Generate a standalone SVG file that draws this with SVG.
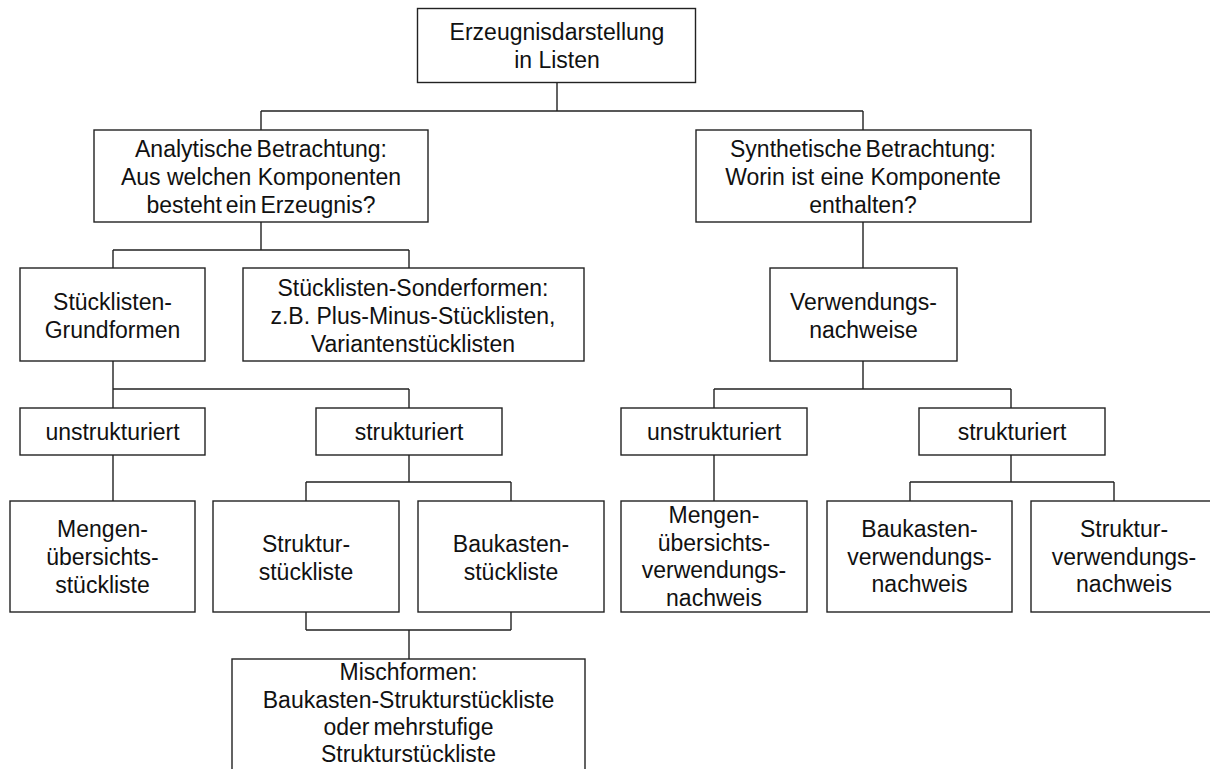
<svg xmlns="http://www.w3.org/2000/svg" width="1210" height="769" viewBox="0 0 1210 769">
<style>
rect{fill:#fff;stroke:#222;stroke-width:1.4}
text{font-family:"Liberation Sans",Arial,sans-serif;font-size:23px;fill:#111;text-anchor:middle}
.t{word-spacing:-2.5px}
#connectors path{fill:none;stroke:#222;stroke-width:1.4}
</style>
<rect width="1210" height="769" style="fill:#fff;stroke:none"/>
<g id="connectors">
<path d="M557,82V111M261,111H863M261,111V130M863,111V130"/>
<path d="M261,222V250M113,250H409M113,250V268M409,250V268"/>
<path d="M113,361V389M113,389H409M113,389V408M409,389V408"/>
<path d="M113,455V501"/>
<path d="M409,455V482M306,482H511M306,482V501M511,482V501"/>
<path d="M306,612V630M511,612V630M306,630H511M409,630V659"/>
<path d="M863,222V268M863,361V389M714,389H1011M714,389V408M1011,389V408"/>
<path d="M714,455V501"/>
<path d="M1011,455V482M910,482H1114M910,482V501M1114,482V501"/>
</g>
<g id="n-root"><rect x="417.5" y="8.5" width="278" height="74"/><text x="557" y="40">Erzeugnisdarstellung</text><text x="557" y="68">in Listen</text></g>
<g id="n-analytisch"><rect x="94" y="130" width="334" height="92"/><text class="t" x="261" y="157">Analytische Betrachtung:</text><text x="261" y="185">Aus welchen Komponenten</text><text class="t" x="261" y="213">besteht ein Erzeugnis?</text></g>
<g id="n-synthetisch"><rect x="696" y="130" width="335" height="92"/><text class="t" x="863" y="157">Synthetische Betrachtung:</text><text x="863" y="185">Worin ist eine Komponente</text><text x="863" y="213">enthalten?</text></g>
<g id="n-grundformen"><rect x="20" y="268" width="185" height="93"/><text x="112.5" y="310">Stücklisten-</text><text x="112.5" y="338">Grundformen</text></g>
<g id="n-sonderformen"><rect x="243" y="268" width="341" height="93"/><text x="413" y="296">Stücklisten-Sonderformen:</text><text x="413" y="324">z.B. Plus-Minus-Stücklisten,</text><text x="413" y="352">Variantenstücklisten</text></g>
<g id="n-verwendungsnachweise"><rect x="770" y="268" width="187" height="93"/><text x="863.5" y="310">Verwendungs-</text><text x="863.5" y="338">nachweise</text></g>
<g id="n-unstrukt-l"><rect x="20" y="408" width="185" height="47"/><text x="112.5" y="440">unstrukturiert</text></g>
<g id="n-strukt-l"><rect x="316" y="408" width="186" height="47"/><text x="409" y="440">strukturiert</text></g>
<g id="n-unstrukt-r"><rect x="621" y="408" width="186" height="47"/><text x="714" y="440">unstrukturiert</text></g>
<g id="n-strukt-r"><rect x="919" y="408" width="186" height="47"/><text x="1012" y="440">strukturiert</text></g>
<g id="n-mengen"><rect x="10" y="501" width="185" height="111"/><text x="102.5" y="537">Mengen-</text><text x="102.5" y="565">übersichts-</text><text x="102.5" y="593">stückliste</text></g>
<g id="n-struktur"><rect x="213" y="501" width="186" height="111"/><text x="306" y="552">Struktur-</text><text x="306" y="580">stückliste</text></g>
<g id="n-baukasten"><rect x="418" y="501" width="186" height="111"/><text x="511" y="552">Baukasten-</text><text x="511" y="580">stückliste</text></g>
<g id="n-mengen-verw"><rect x="621" y="501" width="186" height="111"/><text x="714" y="523">Mengen-</text><text x="714" y="551">übersichts-</text><text x="714" y="578">verwendungs-</text><text x="714" y="606">nachweis</text></g>
<g id="n-baukasten-verw"><rect x="827" y="501" width="185" height="111"/><text x="919.5" y="537">Baukasten-</text><text x="919.5" y="565">verwendungs-</text><text x="919.5" y="592">nachweis</text></g>
<g id="n-struktur-verw"><rect x="1031" y="501" width="186" height="111"/><text x="1124" y="537">Struktur-</text><text x="1124" y="565">verwendungs-</text><text x="1124" y="592">nachweis</text></g>
<g id="n-mischformen"><rect x="232" y="659" width="353" height="120"/><text x="408.5" y="680">Mischformen:</text><text x="408.5" y="708">Baukasten-Strukturstückliste</text><text class="t" x="408.5" y="735">oder mehrstufige</text><text x="408.5" y="762">Strukturstückliste</text></g>
</svg>
